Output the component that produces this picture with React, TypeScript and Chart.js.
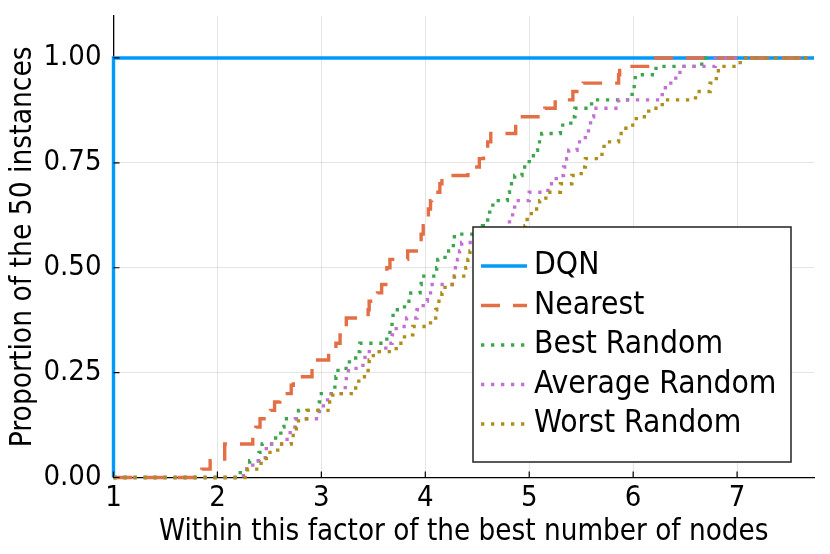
import { Chart, registerables } from "chart.js";
import { useEffect, useRef } from "react";

Chart.register(...registerables);

const FONT = "'DejaVu Sans Condensed', 'DejaVu Sans', sans-serif";

const xTitle = "Within this factor of the best number of nodes";
const yTitle = "Proportion of the 50 instances";

// each curve: x where it steps up, and the share of instances reached there
const dqnX = [1, 1, 7.74];
const dqnY = [0, 1, 1];

const nearestX = [
  1, 1.85, 1.93, 2.07, 2.34, 2.37, 2.41, 2.51, 2.55, 2.6, 2.71, 2.73, 2.91, 3.07, 3.14, 3.18,
  3.22, 3.24, 3.45, 3.46, 3.54, 3.58, 3.62, 3.63, 3.66, 3.83, 3.93, 3.96, 3.98, 4.0, 4.03, 4.05,
  4.06, 4.14, 4.16, 4.41, 4.52, 4.56, 4.6, 4.63, 4.87, 5.15, 5.25, 5.42, 5.52, 5.86, 5.87, 6.22,
  7.74,
];
const nearestY = [
  0, 0.02, 0.04, 0.08, 0.1, 0.12, 0.14, 0.16, 0.18, 0.2, 0.22, 0.24, 0.28, 0.3, 0.32, 0.34,
  0.36, 0.38, 0.4, 0.42, 0.44, 0.46, 0.48, 0.5, 0.52, 0.54, 0.56, 0.58, 0.6, 0.62, 0.64, 0.66,
  0.68, 0.7, 0.72, 0.74, 0.76, 0.78, 0.8, 0.82, 0.86, 0.88, 0.9, 0.92, 0.94, 0.96, 0.98, 1.0,
  1.0,
];

const bestX = [
  1, 2.22, 2.31, 2.4, 2.43, 2.56, 2.61, 2.64, 2.78, 2.98, 3.0, 3.13, 3.14, 3.16, 3.27, 3.33,
  3.37, 3.63, 3.66, 3.68, 3.69, 3.8, 3.86, 3.95, 3.96, 4.11, 4.12, 4.19, 4.27, 4.28, 4.55, 4.6,
  4.62, 4.65, 4.79, 4.81, 4.86, 4.93, 5.0, 5.04, 5.08, 5.12, 5.3, 5.4, 5.44, 5.6, 5.99, 6.01,
  6.02, 6.22, 6.66, 7.74,
];
const bestY = [
  0, 0.02, 0.04, 0.06, 0.08, 0.1, 0.12, 0.14, 0.16, 0.18, 0.2, 0.22, 0.24, 0.26, 0.28, 0.3,
  0.32, 0.34, 0.36, 0.38, 0.4, 0.42, 0.44, 0.46, 0.48, 0.5, 0.52, 0.54, 0.56, 0.58, 0.6, 0.62,
  0.64, 0.66, 0.68, 0.7, 0.72, 0.74, 0.76, 0.78, 0.8, 0.82, 0.84, 0.86, 0.88, 0.9, 0.92, 0.94,
  0.96, 0.98, 1.0, 1.0,
];

const averageX = [
  1, 2.25, 2.34, 2.46, 2.47, 2.67, 2.7, 2.75, 2.98, 3.02, 3.06, 3.23, 3.24, 3.26, 3.4, 3.42,
  3.62, 3.68, 3.72, 3.82, 3.92, 3.98, 4.02, 4.05, 4.28, 4.29, 4.31, 4.33, 4.35, 4.6, 4.78, 4.81,
  4.84, 4.86, 5.0, 5.18, 5.26, 5.33, 5.36, 5.38, 5.46, 5.54, 5.57, 5.59, 5.62, 5.86, 6.28, 6.31,
  6.41, 6.45, 6.79, 7.74,
];
const averageY = [
  0, 0.02, 0.04, 0.06, 0.08, 0.1, 0.12, 0.14, 0.16, 0.18, 0.2, 0.22, 0.24, 0.26, 0.28, 0.3,
  0.32, 0.34, 0.36, 0.38, 0.4, 0.42, 0.44, 0.46, 0.48, 0.5, 0.52, 0.54, 0.56, 0.58, 0.6, 0.62,
  0.64, 0.66, 0.68, 0.7, 0.72, 0.74, 0.76, 0.78, 0.8, 0.82, 0.84, 0.86, 0.88, 0.9, 0.92, 0.94,
  0.96, 0.98, 1.0, 1.0,
];

const worstX = [
  1, 2.29, 2.42, 2.47, 2.58, 2.71, 2.76, 2.78, 2.86, 3.08, 3.11, 3.33, 3.36, 3.45, 3.46, 3.5,
  3.72, 3.8, 3.88, 4.05, 4.1, 4.11, 4.16, 4.19, 4.28, 4.39, 4.41, 4.43, 4.7, 4.9, 4.96, 4.98,
  5.02, 5.1, 5.16, 5.3, 5.41, 5.5, 5.54, 5.7, 5.72, 5.86, 5.93, 6.03, 6.15, 6.28, 6.6, 6.74,
  6.8, 6.82, 7.03, 7.74,
];
const worstY = [
  0, 0.02, 0.04, 0.06, 0.08, 0.1, 0.12, 0.14, 0.16, 0.18, 0.2, 0.22, 0.24, 0.26, 0.28, 0.3,
  0.32, 0.34, 0.36, 0.38, 0.4, 0.42, 0.44, 0.46, 0.48, 0.5, 0.52, 0.54, 0.56, 0.58, 0.6, 0.62,
  0.64, 0.66, 0.68, 0.7, 0.72, 0.74, 0.76, 0.78, 0.8, 0.82, 0.84, 0.86, 0.88, 0.9, 0.92, 0.94,
  0.96, 0.98, 1.0, 1.0,
];

const series = [
  { name: "DQN", xs: dqnX, ys: dqnY },
  { name: "Nearest", xs: nearestX, ys: nearestY },
  { name: "Best Random", xs: bestX, ys: bestY },
  { name: "Average Random", xs: averageX, ys: averageY },
  { name: "Worst Random", xs: worstX, ys: worstY },
];

const colors = ["#009AFA", "#E36F47", "#3EA44E", "#C271D2", "#AC8E18"];
const dashes = [[], [19, 13], [3.3, 6.7], [3.3, 6.7], [3.3, 6.7]];

// legend box drawn inside the plot, over the curves
const legendBox = {
  id: "legendBox",
  afterDatasetsDraw(chart: any) {
    const { ctx, chartArea } = chart;
    const w = 318;
    const h = 235;
    const x0 = chartArea.right - 23 - w;
    const y0 = chartArea.top + 211;
    ctx.save();
    ctx.fillStyle = "#fff";
    ctx.fillRect(x0, y0, w, h);
    ctx.strokeStyle = "#222";
    ctx.lineWidth = 1.5;
    ctx.strokeRect(x0, y0, w, h);
    chart.data.datasets.forEach((ds: any, i: number) => {
      const y = y0 + 39 + i * 39.5;
      ctx.beginPath();
      ctx.setLineDash(ds.borderDash || []);
      ctx.strokeStyle = ds.borderColor;
      ctx.lineWidth = ds.borderWidth;
      ctx.moveTo(x0 + 8, y);
      ctx.lineTo(x0 + 54, y);
      ctx.stroke();
      ctx.setLineDash([]);
      ctx.fillStyle = "#000";
      ctx.font = `31.5px ${FONT}`;
      ctx.textBaseline = "middle";
      ctx.fillText(ds.label, x0 + 61, y);
    });
    ctx.restore();
  },
};

// tick marks point into the plot
const innerTicks = {
  id: "innerTicks",
  afterDraw(chart: any) {
    const { ctx, chartArea, scales } = chart;
    ctx.save();
    ctx.strokeStyle = "#000";
    ctx.lineWidth = 1.2;
    ctx.beginPath();
    scales.x.ticks.forEach((t: any) => {
      const px = scales.x.getPixelForValue(t.value);
      ctx.moveTo(px, chartArea.bottom);
      ctx.lineTo(px, chartArea.bottom - 6);
    });
    scales.y.ticks.forEach((t: any) => {
      const py = scales.y.getPixelForValue(t.value);
      ctx.moveTo(chartArea.left, py);
      ctx.lineTo(chartArea.left + 6, py);
    });
    ctx.stroke();
    ctx.restore();
  },
};

export default function App() {
  const canvasRef = useRef<HTMLCanvasElement | null>(null);

  useEffect(() => {
    document.body.style.margin = "0";
    if (!canvasRef.current) return;

    const chart = new Chart(canvasRef.current, {
      type: "line",
      data: {
        datasets: series.map((s, i) => ({
          label: s.name,
          data: s.xs.map((x, j) => ({ x, y: s.ys[j] })),
          borderColor: colors[i],
          backgroundColor: colors[i],
          borderWidth: 3.4,
          borderDash: dashes[i],
          borderCapStyle: "butt",
          stepped: "before",
          pointRadius: 0,
          fill: false,
          order: series.length - i,
          clip: 4,
        })),
      },
      options: {
        animation: false,
        responsive: true,
        maintainAspectRatio: false,
        layout: { padding: { top: 16, right: 16, left: 0, bottom: 0 } },
        font: { family: FONT },
        plugins: {
          legend: { display: false },
          tooltip: { enabled: false },
        },
        scales: {
          x: {
            type: "linear",
            min: 1,
            max: 7.74,
            ticks: {
              stepSize: 1,
              includeBounds: false,
              color: "#000",
              padding: 4,
              maxRotation: 0,
              font: { family: FONT, size: 29 },
            },
            grid: { color: "rgba(0,0,0,0.1)", lineWidth: 1, drawTicks: false },
            border: { color: "#000", width: 1.3 },
            title: {
              display: true,
              text: xTitle,
              color: "#000",
              font: { family: FONT, size: 29.3 },
              padding: { top: 0, bottom: 4 },
            },
            afterFit: (s: any) => {
              s.height = 76.5;
              s.paddingLeft = 0;
              s.paddingRight = 0;
            },
          },
          y: {
            type: "linear",
            min: 0,
            max: 1.1,
            ticks: {
              stepSize: 0.25,
              includeBounds: false,
              color: "#000",
              padding: 12,
              font: { family: FONT, size: 29 },
              callback: (v: any) => Number(v).toFixed(2),
            },
            grid: { color: "rgba(0,0,0,0.1)", lineWidth: 1, drawTicks: false },
            border: { color: "#000", width: 1.3 },
            title: {
              display: true,
              text: yTitle,
              color: "#000",
              font: { family: FONT, size: 29.6 },
              padding: { top: 6, bottom: 0 },
            },
            afterFit: (s: any) => {
              s.width = 113.5;
              s.paddingTop = 0;
              s.paddingBottom = 0;
            },
          },
        },
      },
      plugins: [legendBox, innerTicks],
    } as any);

    return () => {
      chart.destroy();
    };
  }, []);

  return (
    <div style={{ width: 830, height: 554, position: "relative" }}>
      <canvas ref={canvasRef} />
    </div>
  );
}
